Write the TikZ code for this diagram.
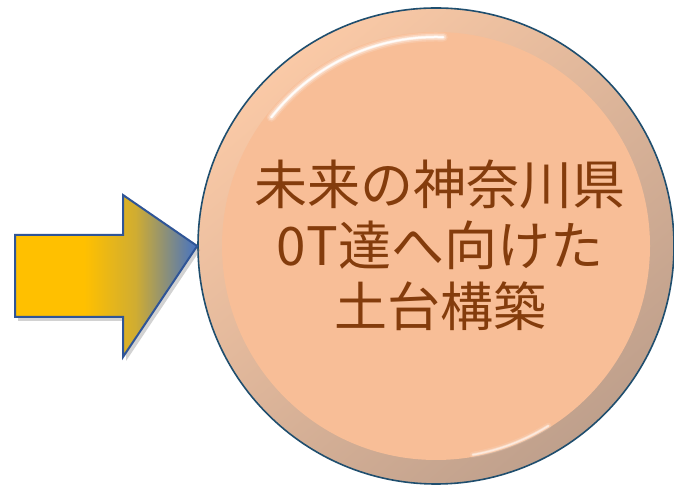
\documentclass[tikz,border=0pt]{standalone}
\usepackage{fontspec}
\newfontfamily\cjk{Noto Sans CJK JP}
\usetikzlibrary{shadows,calc}
\definecolor{peach}{HTML}{F8BE97}
\definecolor{peachlt}{HTML}{FAC9A6}
\definecolor{rimdark}{HTML}{BFA08C}
\definecolor{rimedge}{HTML}{1F4E6E}
\definecolor{yel}{HTML}{FFC000}
\definecolor{blu}{HTML}{4472C4}
\definecolor{arrowedge}{HTML}{2F5597}
\definecolor{txt}{HTML}{843C0C}
\pgfdeclarehorizontalshading{arrowshade}{100bp}{color(0bp)=(yel); color(44bp)=(yel); color(58bp)=(yel!75!blu); color(75bp)=(blu); color(100bp)=(blu)}
\tikzset{
  rimline/.style={draw=rimedge, line width=1.6pt},
  hilite/.style={white, line cap=round},
  blockarrow/.style={draw=arrowedge, line width=2pt, line join=miter, shading=arrowshade,
    drop shadow={opacity=0.35, shadow xshift=3pt, shadow yshift=-4pt}},
  bigtext/.style={font=\cjk\fontsize{53}{61}\selectfont, text=txt, align=center}
}
\begin{document}
\begin{tikzpicture}[x=1pt,y=1pt]
\useasboundingbox (0,0) rectangle (674,486);
\fill[white] (0,0) rectangle (674,486);
% circle with bevel
\coordinate (c) at (436,240);
\shade[top color=peachlt, bottom color=rimdark, shading angle=40] (c) circle (238);
\fill[peach] (c) circle (214);
\foreach \w/\o in {9/0.15,6/0.3,3/0.6,1.5/0.9}{
  \draw[hilite, line width=\w pt, opacity=\o] ($(c)+(142:209)$) arc (142:88:209);
}
\foreach \w/\o in {6/0.12,3/0.3,1.5/0.5}{
  \draw[hilite, line width=\w pt, opacity=\o] ($(c)+(-58:212)$) arc (-58:-80:212);
}
\node[circle, minimum size=476pt, inner sep=0pt, rimline] (hub) at (c) {};
% text
\node[bigtext] (label) at (440,241) {未来の神奈川県\\0T達へ向けた\\土台構築};
% block arrow
\coordinate (tip) at (hub.west);
\path[blockarrow] (15,251) -- (123,251) -- (123,291) -- (tip) -- (123,129) -- (123,169) -- (15,169) -- cycle;
\end{tikzpicture}
\end{document}
